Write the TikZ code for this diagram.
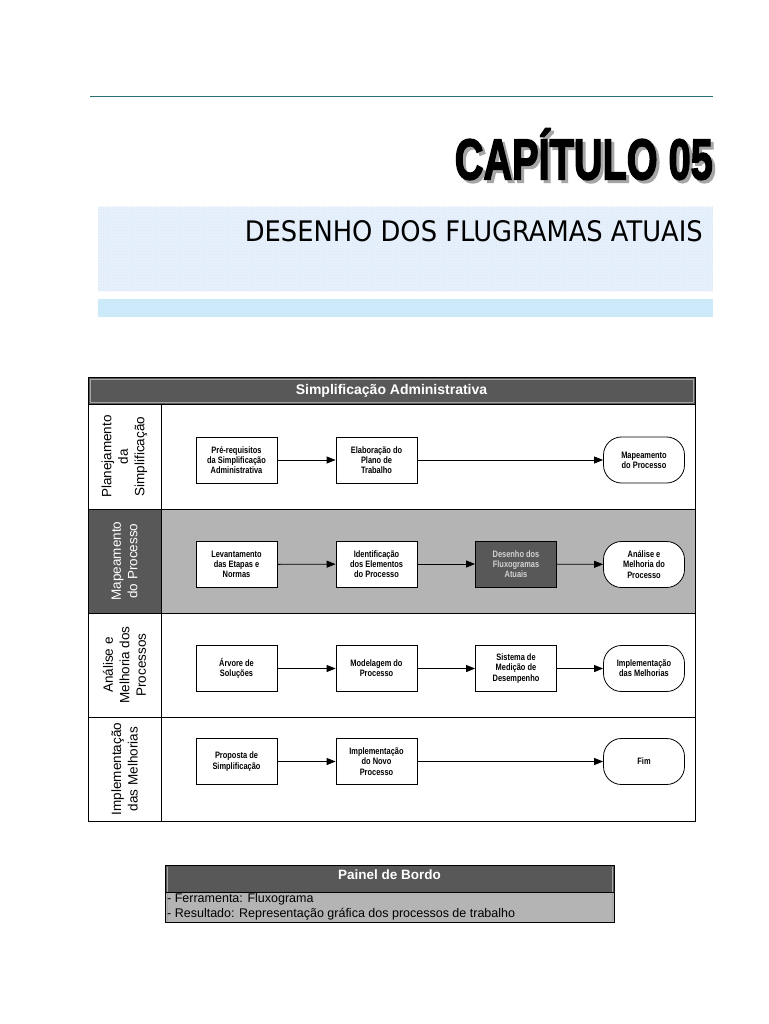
\documentclass[tikz,border=0pt]{standalone}
\usepackage{fontspec}
\setmainfont{Liberation Sans}
\newfontfamily\titlefont{Liberation Sans}[BoldFeatures={FakeBold=3}]
\newfontfamily\subfont{DejaVu Sans}
\newfontfamily\narrowfont{Liberation Sans}[FakeStretch=0.8]
\usetikzlibrary{arrows.meta,patterns}
\definecolor{teal1}{HTML}{2B6F74}
\definecolor{hdrgray}{HTML}{585858}
\definecolor{lanegray}{HTML}{B4B4B4}
\definecolor{paleblue}{HTML}{E6F2FA}
\definecolor{barblue}{HTML}{CCEAFA}
\newcommand{\chaptitle}{\resizebox{258pt}{40pt}{\titlefont\bfseries CAP\smash{Í}TULO 05}}
\tikzset{
  procbox/.style={draw=black, line width=0.8pt, fill=white, minimum width=81pt, minimum height=46pt, inner sep=1pt, align=center, font=\narrowfont\bfseries\fontsize{9.3}{10.2}\selectfont},
  darkbox/.style={procbox, fill=hdrgray, text=lanegray!60},
  termbox/.style={procbox, rounded corners=18pt},
  lanelabel/.style={rotate=90, align=center, font=\fontsize{13.5}{16.5}\selectfont},
  flow/.style={-{Triangle[length=9pt,width=7pt]}, line width=0.8pt},
  rule/.style={draw=black, line width=1pt}
}
\begin{document}
\begin{tikzpicture}[x=1pt,y=-1pt]
\useasboundingbox (0,0) rectangle (768,1024);
\fill[white] (0,0) rectangle (768,1024);
% top rule
\draw[teal1, line width=1pt] (90,97) -- (713,97);
% title with shadow (one text)
\node[anchor=south east, inner sep=0pt] (title) at (713,183) {\rlap{\raisebox{-3pt}{\hspace{3pt}\color{gray!70}\chaptitle}}\chaptitle};
% patterned band
\fill[paleblue] (98,207) rectangle (713,291);
\fill[pattern=crosshatch dots, pattern color=blue!12] (98,207) rectangle (713,291);
\node[anchor=south east, inner sep=0pt] (subtitle) at (703,242) {\resizebox{458pt}{21pt}{\subfont DESENHO DOS FLUGRAMAS ATUAIS}};
\fill[barblue] (98,299) rectangle (713,317);
% main table
\fill[lanegray] (161,509) rectangle (695,613);
\fill[hdrgray] (88,509) rectangle (161,613);
\fill[hdrgray] (88,377) rectangle (695,404);
\draw[gray!70, line width=0.8pt] (90,379) rectangle (693,402);
\node[text=white, font=\bfseries\fontsize{14}{16}\selectfont] (hdr) at (391.5,390.5) {Simplificação Administrativa};
\draw[rule] (88,377) rectangle (695,821);
\draw[rule] (88,404) -- (695,404);
\draw[rule] (88,509) -- (695,509);
\draw[rule] (88,613) -- (695,613);
\draw[rule] (88,717) -- (695,717);
\draw[rule] (161,404) -- (161,821);
% lane labels
\node[lanelabel] (l1) at (124.5,456.5) {Planejamento\\da\\Simplificação};
\node[lanelabel, text=white] (l2) at (124.5,561) {Mapeamento\\do Processo};
\node[lanelabel] (l3) at (124.5,665) {Análise e\\Melhoria dos\\Processos};
\node[lanelabel] (l4) at (124.5,769) {Implementação\\das Melhorias};
% row 1
\node[procbox] (b11) at (236.5,460) {Pré-requisitos\\da Simplificação\\Administrativa};
\node[procbox] (b12) at (376.5,460) {Elaboração do\\Plano de\\Trabalho};
\node[termbox] (t1) at (644,460) {Mapeamento\\do Processo};
\draw[flow] (b11) -- (b12);
\draw[flow] (b12) -- (t1);
% row 2
\node[procbox] (b21) at (236.5,564.5) {Levantamento\\das Etapas e\\Normas};
\node[procbox] (b22) at (376.5,564) {Identificação\\dos Elementos\\do Processo};
\node[darkbox] (b23) at (516,564) {Desenho dos\\Fluxogramas\\Atuais};
\node[termbox] (t2) at (644,564.5) {Análise e\\Melhoria do\\Processo};
\draw[flow] (b21) -- (b22);
\draw[flow] (b22) -- (b23);
\draw[flow] (b23) -- (t2);
% row 3
\node[procbox] (b31) at (236.5,668.5) {Árvore de\\Soluções};
\node[procbox] (b32) at (376.5,668.5) {Modelagem do\\Processo};
\node[procbox] (b33) at (516,668.5) {Sistema de\\Medição de\\Desempenho};
\node[termbox] (t3) at (644,668.5) {Implementação\\das Melhorias};
\draw[flow] (b31) -- (b32);
\draw[flow] (b32) -- (b33);
\draw[flow] (b33) -- (t3);
% row 4
\node[procbox] (b41) at (236.5,761.5) {Proposta de\\Simplificação};
\node[procbox] (b42) at (376.5,761.5) {Implementação\\do Novo\\Processo};
\node[termbox] (t4) at (644,761.5) {Fim};
\draw[flow] (b41) -- (b42);
\draw[flow] (b42) -- (t4);
% painel de bordo
\fill[hdrgray] (165,865) rectangle (614,892);
\fill[lanegray] (165,892) rectangle (614,922);
\draw[gray!70, line width=0.8pt] (167,866.5) -- (167,921) (612,866.5) -- (612,921);
\draw[black, line width=0.8pt] (165,865) rectangle (614,922);
\draw[black, line width=0.6pt] (165,892) -- (614,892);
\node[text=white, font=\bfseries\fontsize{13.5}{15}\selectfont] (ph) at (389.5,875) {Painel de Bordo};
\node[anchor=west, inner sep=0pt, font=\fontsize{12.5}{14}\selectfont] (p1) at (167,899.5) {- Ferramenta: Fluxograma};
\node[anchor=west, inner sep=0pt, font=\fontsize{12.5}{14}\selectfont] (p2) at (167,914) {- Resultado: Representação gráfica dos processos de trabalho};
\end{tikzpicture}
\end{document}
